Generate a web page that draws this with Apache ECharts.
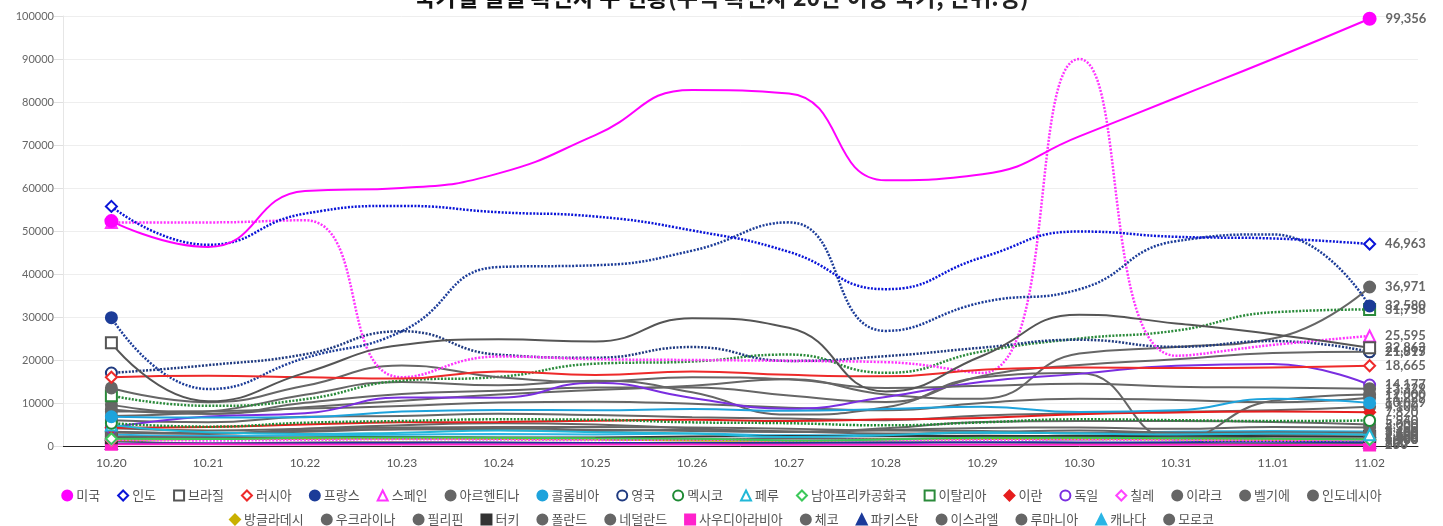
<!DOCTYPE html>
<html>
<head>
<meta charset="utf-8">
<script src="https://cdn.jsdelivr.net/npm/echarts@6/dist/echarts.min.js"></script>
<style>
  html, body { margin: 0; padding: 0; background: #fff; }
  #chart { width: 1443px; height: 526px; }
</style>
</head>
<body>
<div id="chart"></div>
<script>
// 날짜 (x축)
const dates = ['10.20', '10.21', '10.22', '10.23', '10.24', '10.25', '10.26', '10.27', '10.28', '10.29', '10.30', '10.31', '11.01', '11.02'];

// 국가별 일일 확진자 수
const usa         = [52300, 46300, 59300, 60000, 63400, 72300, 82800, 82000, 61800, 63200, 72000, 81000, 90000, 99356];
const india       = [55722, 46790, 54044, 55839, 54366, 53370, 50129, 45148, 36470, 43893, 49881, 48648, 48268, 46963];
const brazil      = [24000, 10400, 17000, 23500, 24800, 24300, 29700, 27500, 12700, 21000, 30500, 28500, 26000, 22863];
const russia      = [15982, 16319, 15971, 15700, 17340, 16521, 17347, 16550, 16202, 17717, 18283, 18140, 18257, 18665];
const france      = [29837, 13243, 20468, 26676, 41622, 42032, 45422, 52010, 26771, 33417, 36437, 47637, 49215, 32580];
const spain       = [52000, 52000, 52500, 16000, 20800, 20200, 20000, 19800, 19500, 17000, 90000, 21000, 23500, 25595];
const argentina   = [13500, 10200, 14000, 18700, 16000, 15000, 16000, 15500, 13500, 14000, 14500, 13800, 13600, 13329];
const colombia    = [6800, 6600, 6700, 8000, 8400, 8300, 8600, 8200, 8600, 9100, 7900, 8300, 11000, 10029];
const uk          = [16982, 18804, 21331, 26688, 21242, 20530, 23012, 19790, 20890, 22885, 24701, 23065, 24405, 21915];
const mexico      = [5300, 4500, 5400, 5800, 6200, 6100, 5500, 5300, 4800, 5500, 6200, 6000, 5800, 5940];
const peru        = [4900, 3200, 2800, 3100, 3600, 3200, 2900, 2100, 2500, 3200, 2900, 2700, 2900, 2600];
const southAfrica = [1700, 1600, 1900, 2000, 1900, 1800, 1700, 1300, 1500, 1900, 1900, 1800, 1700, 1500];
const italy       = [11705, 9338, 10874, 15199, 16079, 19143, 19644, 21273, 17012, 21994, 24991, 26831, 31084, 31758];
const iran        = [4250, 4400, 5000, 5500, 5600, 5900, 6100, 5800, 6200, 6500, 7400, 7800, 8000, 7820];
const germany     = [4325, 6868, 7595, 11287, 11242, 14714, 11176, 8685, 11409, 14964, 16774, 18681, 19059, 14177];
const chile       = [1500, 1300, 1400, 1600, 1500, 1400, 1500, 1300, 1400, 1400, 1500, 1400, 1300, 1400];
const iraq        = [3200, 3000, 3300, 3900, 3700, 3500, 3800, 3400, 2900, 3200, 3600, 3100, 3200, 3100];
const belgium     = [8500, 7500, 9000, 10500, 12000, 13000, 14000, 15500, 12000, 11000, 21500, 23000, 25000, 36971];
const indonesia   = [4100, 3600, 4000, 4300, 4400, 4400, 4300, 4000, 3600, 3500, 2900, 3100, 2700, 2600];
const bangladesh  = [1400, 1600, 1700, 1700, 1600, 1500, 1300, 1200, 1500, 1600, 1600, 1500, 1400, 1500];
const ukraine     = [6000, 5500, 6800, 7000, 7500, 7200, 6700, 6400, 6000, 7100, 7600, 8000, 8300, 9100];
const philippines = [2200, 1900, 1700, 2000, 1800, 1600, 1500, 1800, 1700, 1800, 1500, 2000, 1800, 1800];
const turkey      = [1900, 1900, 2000, 2100, 2000, 2000, 2200, 2300, 2300, 2400, 2300, 2300, 2300, 2200];
const poland      = [9622, 7482, 10040, 12107, 12836, 13632, 13628, 11742, 10241, 16300, 18820, 20156, 21629, 21897];
const netherlands = [8000, 8100, 8700, 9300, 10100, 10300, 9800, 8900, 8300, 10000, 11000, 10700, 10200, 11229];
const saudi       = [400, 380, 370, 350, 340, 330, 320, 300, 300, 290, 280, 270, 260, 250];
const czech       = [7000, 8000, 11900, 14900, 14100, 15200, 12500, 7300, 9000, 16000, 17000, 1500, 10500, 12000];
const pakistan    = [600, 590, 650, 700, 750, 700, 740, 800, 750, 900, 800, 900, 1000, 900];
const israel      = [1200, 600, 800, 900, 800, 700, 500, 700, 900, 800, 700, 600, 500, 600];
const romania     = [3200, 2800, 4000, 4800, 5300, 5000, 4100, 3300, 4100, 5600, 5800, 5800, 5600, 5000];
const canada      = [2700, 2300, 2500, 2600, 2800, 2700, 2900, 2500, 2600, 3100, 3000, 3300, 3500, 3400];
const morocco     = [3300, 3000, 3600, 3900, 4100, 3800, 3500, 3300, 3700, 4200, 4300, 4000, 4400, 4300];

const GRAY = '#666666';
// [이름, 데이터, 색, 심볼, 점선여부]
const countries = [
  ['미국', usa, '#ff00ff', 'circle', false],
  ['인도', india, '#0a14d8', 'emptyDiamond', true],
  ['브라질', brazil, '#555555', 'emptyRect', false],
  ['러시아', russia, '#ee2a2a', 'emptyDiamond', false],
  ['프랑스', france, '#1c3c98', 'circle', true],
  ['스페인', spain, '#ff33ff', 'emptyTriangle', true],
  ['아르헨티나', argentina, GRAY, 'circle', false],
  ['콜롬비아', colombia, '#1ea3dc', 'circle', false],
  ['영국', uk, '#1f3a80', 'emptyCircle', true],
  ['멕시코', mexico, '#1e8a34', 'emptyCircle', true],
  ['페루', peru, '#22b8d8', 'emptyTriangle', false],
  ['남아프리카공화국', southAfrica, '#3cc85a', 'emptyDiamond', false],
  ['이탈리아', italy, '#2a8a3a', 'emptyRect', true],
  ['이란', iran, '#e61e1e', 'diamond', false],
  ['독일', germany, '#7a2ee0', 'emptyCircle', false],
  ['칠레', chile, '#ff44ff', 'emptyDiamond', true],
  ['이라크', iraq, GRAY, 'circle', false],
  ['벨기에', belgium, GRAY, 'circle', false],
  ['인도네시아', indonesia, GRAY, 'circle', false],
  ['방글라데시', bangladesh, '#c9b000', 'diamond', false],
  ['우크라이나', ukraine, GRAY, 'circle', false],
  ['필리핀', philippines, GRAY, 'circle', false],
  ['터키', turkey, '#333333', 'rect', false],
  ['폴란드', poland, GRAY, 'circle', false],
  ['네덜란드', netherlands, GRAY, 'circle', false],
  ['사우디아라비아', saudi, '#ff22cc', 'rect', false],
  ['체코', czech, GRAY, 'circle', false],
  ['파키스탄', pakistan, '#1b3a9a', 'triangle', false],
  ['이스라엘', israel, GRAY, 'circle', false],
  ['루마니아', romania, GRAY, 'circle', false],
  ['캐나다', canada, '#2ab5e5', 'triangle', false],
  ['모로코', morocco, GRAY, 'circle', false],
];

function fmt(v) {
  return String(v).replace(/\B(?=(\d{3})+(?!\d))/g, ',');
}

const last = dates.length - 1;
const series = countries.map(([name, arr, color, symbol, dotted], i) => ({
  name: name,
  type: 'line',
  smooth: 0.5,
  z: 2 + (countries.length - i),
  symbol: symbol,
  symbolSize: name === '미국' ? 12 : 11,
  color: color,
  itemStyle: { color: color, borderColor: color, borderWidth: 2 },
  lineStyle: { color: color, width: dotted ? 2.5 : 2, type: dotted ? [2, 1.5] : 'solid' },
  data: arr.map((v, j) => {
    if (j === 0) return { value: v };
    if (j === last) return { value: v, label: { show: true } };
    return { value: v, symbol: 'none' };
  }),
  label: {
    show: false,
    position: 'right',
    distance: 9,
    formatter: p => fmt(p.value),
    color: '#666',
    fontFamily: 'Lato',
    fontWeight: 'bold',
    fontSize: 13
  },
  emphasis: { disabled: true }
}));

const legendItems = countries.map(([name, , , symbol]) => ({ name: name, icon: symbol }));
const legendStyle = {
  orient: 'horizontal',
  left: 'center',
  itemWidth: 10,
  itemHeight: 10,
  itemGap: 17,
  textStyle: { fontFamily: 'Noto Sans CJK KR', fontSize: 13, color: '#555', padding: [0, 0, 0, -1] },
  selectedMode: false
};

const chart = echarts.init(document.getElementById('chart'));
chart.setOption({
  animation: false,
  backgroundColor: '#fff',
  title: {
    text: '{b|국가별 일일 확진자 수 현황}{n|(누적 확진자 20만 이상 국가, 단위:명)}',
    left: 'center',
    top: -19,
    textStyle: {
      rich: {
        b: { fontFamily: 'Noto Sans CJK KR', fontSize: 23, fontWeight: 'bold', color: '#111' },
        n: { fontFamily: 'Noto Sans CJK KR', fontSize: 23, color: '#222' }
      }
    }
  },
  legend: [
    Object.assign({ top: 484, data: legendItems.slice(0, 19) }, legendStyle),
    Object.assign({ top: 508, data: legendItems.slice(19) }, legendStyle)
  ],
  grid: { left: 63, right: 25, top: 16, bottom: 80 },
  xAxis: {
    type: 'category',
    data: dates,
    boundaryGap: true,
    axisLine: { lineStyle: { color: '#222', width: 1 } },
    axisTick: { show: false },
    axisLabel: { color: '#555', fontFamily: 'Lato', fontSize: 12, margin: 11 }
  },
  yAxis: {
    type: 'value',
    min: 0,
    max: 100000,
    interval: 10000,
    axisLine: { show: true, lineStyle: { color: '#e6e6e6' } },
    axisTick: { show: true, length: 9, lineStyle: { color: '#e0e0e0' } },
    splitLine: { lineStyle: { color: '#eeeeee' } },
    axisLabel: { color: '#666', fontFamily: 'Lato', fontSize: 11, margin: 9, formatter: v => String(v) }
  },
  series: series
});
</script>
</body>
</html>
